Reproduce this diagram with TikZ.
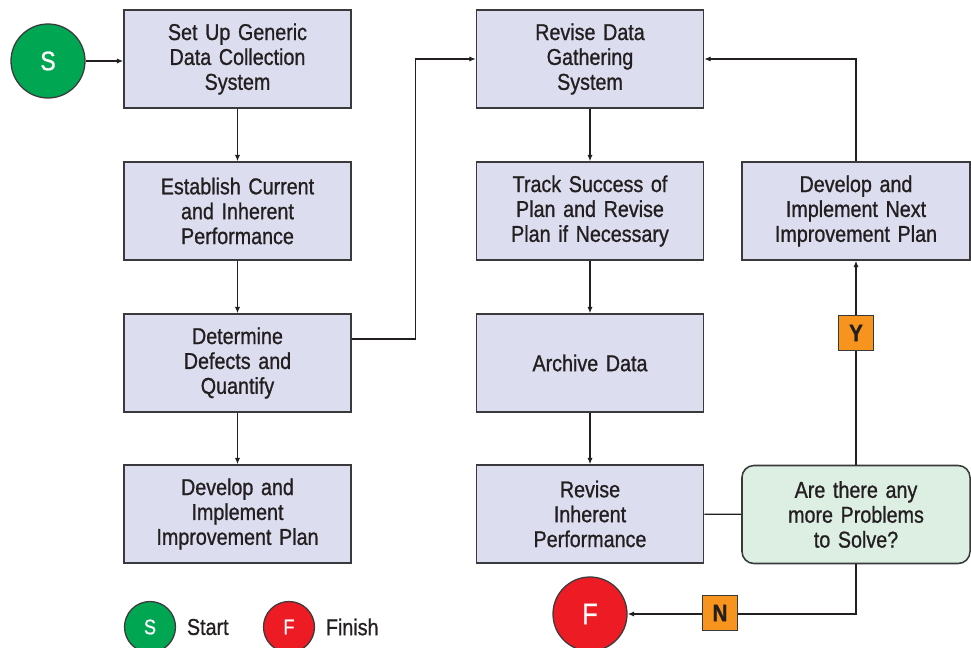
\documentclass[tikz,border=0pt]{standalone}
\usepackage{fontspec}
\setmainfont[FakeStretch=0.86, FakeBold=0.9, WordSpace=0.85]{Liberation Sans}
\usetikzlibrary{arrows.meta}

\definecolor{boxfill}{HTML}{DCDDEF}
\definecolor{askfill}{HTML}{DDEEE3}
\definecolor{edgegray}{HTML}{3A3A3C}
\definecolor{inkdark}{HTML}{231F20}
\definecolor{startgreen}{HTML}{00A651}
\definecolor{finishred}{HTML}{ED1C24}
\definecolor{tagorange}{HTML}{F7941D}

\tikzset{
    boxtext/.style={font=\fontsize{16.3}{17.7}\selectfont, text=inkdark, align=center},
    procbox/.style={boxtext, draw=edgegray, line width=1.1pt, fill=boxfill,
        minimum width=5.675cm, minimum height=2.45cm, text width=5.4cm, inner sep=0pt},
    askbox/.style={procbox, fill=askfill, rounded corners=0.3cm, minimum width=5.7cm},
    termdot/.style={circle, draw=edgegray, line width=0.9pt, text=white, inner sep=0pt},
    yntag/.style={boxtext, draw=edgegray, line width=0.9pt, fill=tagorange,
        minimum size=0.875cm, inner sep=0pt, font=\fontsize{17}{18}\selectfont\bfseries},
    flow/.style={draw=inkdark, line width=0.8pt, -{Latex[length=0.16cm, width=0.13cm]}},
    link/.style={draw=inkdark, line width=0.8pt}
}

\begin{document}
\begin{tikzpicture}[x=0.025cm, y=-0.025cm]
    \useasboundingbox (0,0) rectangle (971,648);

    %% left column
    \node[procbox] (setup) at (237.5, 59) {Set Up Generic\\Data Collection\\System};
    \node[procbox] (establish) at (237.5, 211) {Establish Current\\and Inherent\\Performance};
    \node[procbox] (determine) at (237.5, 363) {Determine\\Defects and\\Quantify};
    \node[procbox] (develop) at (237.5, 514) {Develop and\\Implement\\Improvement Plan};

    %% middle column
    \node[procbox] (revise) at (590, 59) {Revise Data\\Gathering\\System};
    \node[procbox] (track) at (590, 211) {Track Success of\\Plan and Revise\\Plan if Necessary};
    \node[procbox] (archive) at (590, 363) {Archive Data};
    \node[procbox] (revinh) at (590, 514) {Revise\\Inherent\\Performance};

    %% right column
    \node[procbox, minimum width=5.7cm] (nextplan) at (856, 211) {Develop and\\Implement Next\\Improvement Plan};
    \node[askbox] (ask) at (856, 514.5) {Are there any\\more Problems\\to Solve?};

    %% start and finish
    \node[termdot, fill=startgreen, minimum size=1.85cm, font=\fontsize{19}{20}\selectfont] (start) at (48, 61) {S};
    \node[termdot, fill=finishred, minimum size=1.85cm, font=\fontsize{21}{22}\selectfont] (fin) at (590, 614) {F};

    %% connectors
    \draw[flow] (start) -- (start -| setup.west);
    \draw[flow] (setup) -- (establish);
    \draw[flow] (establish) -- (determine);
    \draw[flow] (determine) -- (develop);
    \draw[flow] ([yshift=0.6cm]determine.east) -- ++(64,0) |- (revise.west);
    \draw[flow] (revise) -- (track);
    \draw[flow] (track) -- (archive);
    \draw[flow] (archive) -- (revinh);
    \draw[link] (revinh) -- (ask);
    \draw[flow] (ask) -- (nextplan);
    \draw[flow] (nextplan.north) |- (revise.east);
    \draw[flow] (ask.south) |- (fin.east);

    %% answers
    \node[yntag] (yes) at (856, 333) {Y};
    \node[yntag] (no) at (720, 613) {N};

    %% legend
    \node[termdot, fill=startgreen, minimum size=1.275cm, font=\fontsize{15}{16}\selectfont] (keys) at (150, 627) {S};
    \node[boxtext, anchor=west] (keystart) at (182, 627) {Start};
    \node[termdot, fill=finishred, minimum size=1.275cm, font=\fontsize{15}{16}\selectfont] (keyf) at (289, 627) {F};
    \node[boxtext, anchor=west] (keyfinish) at (321, 627) {Finish};
\end{tikzpicture}
\end{document}
